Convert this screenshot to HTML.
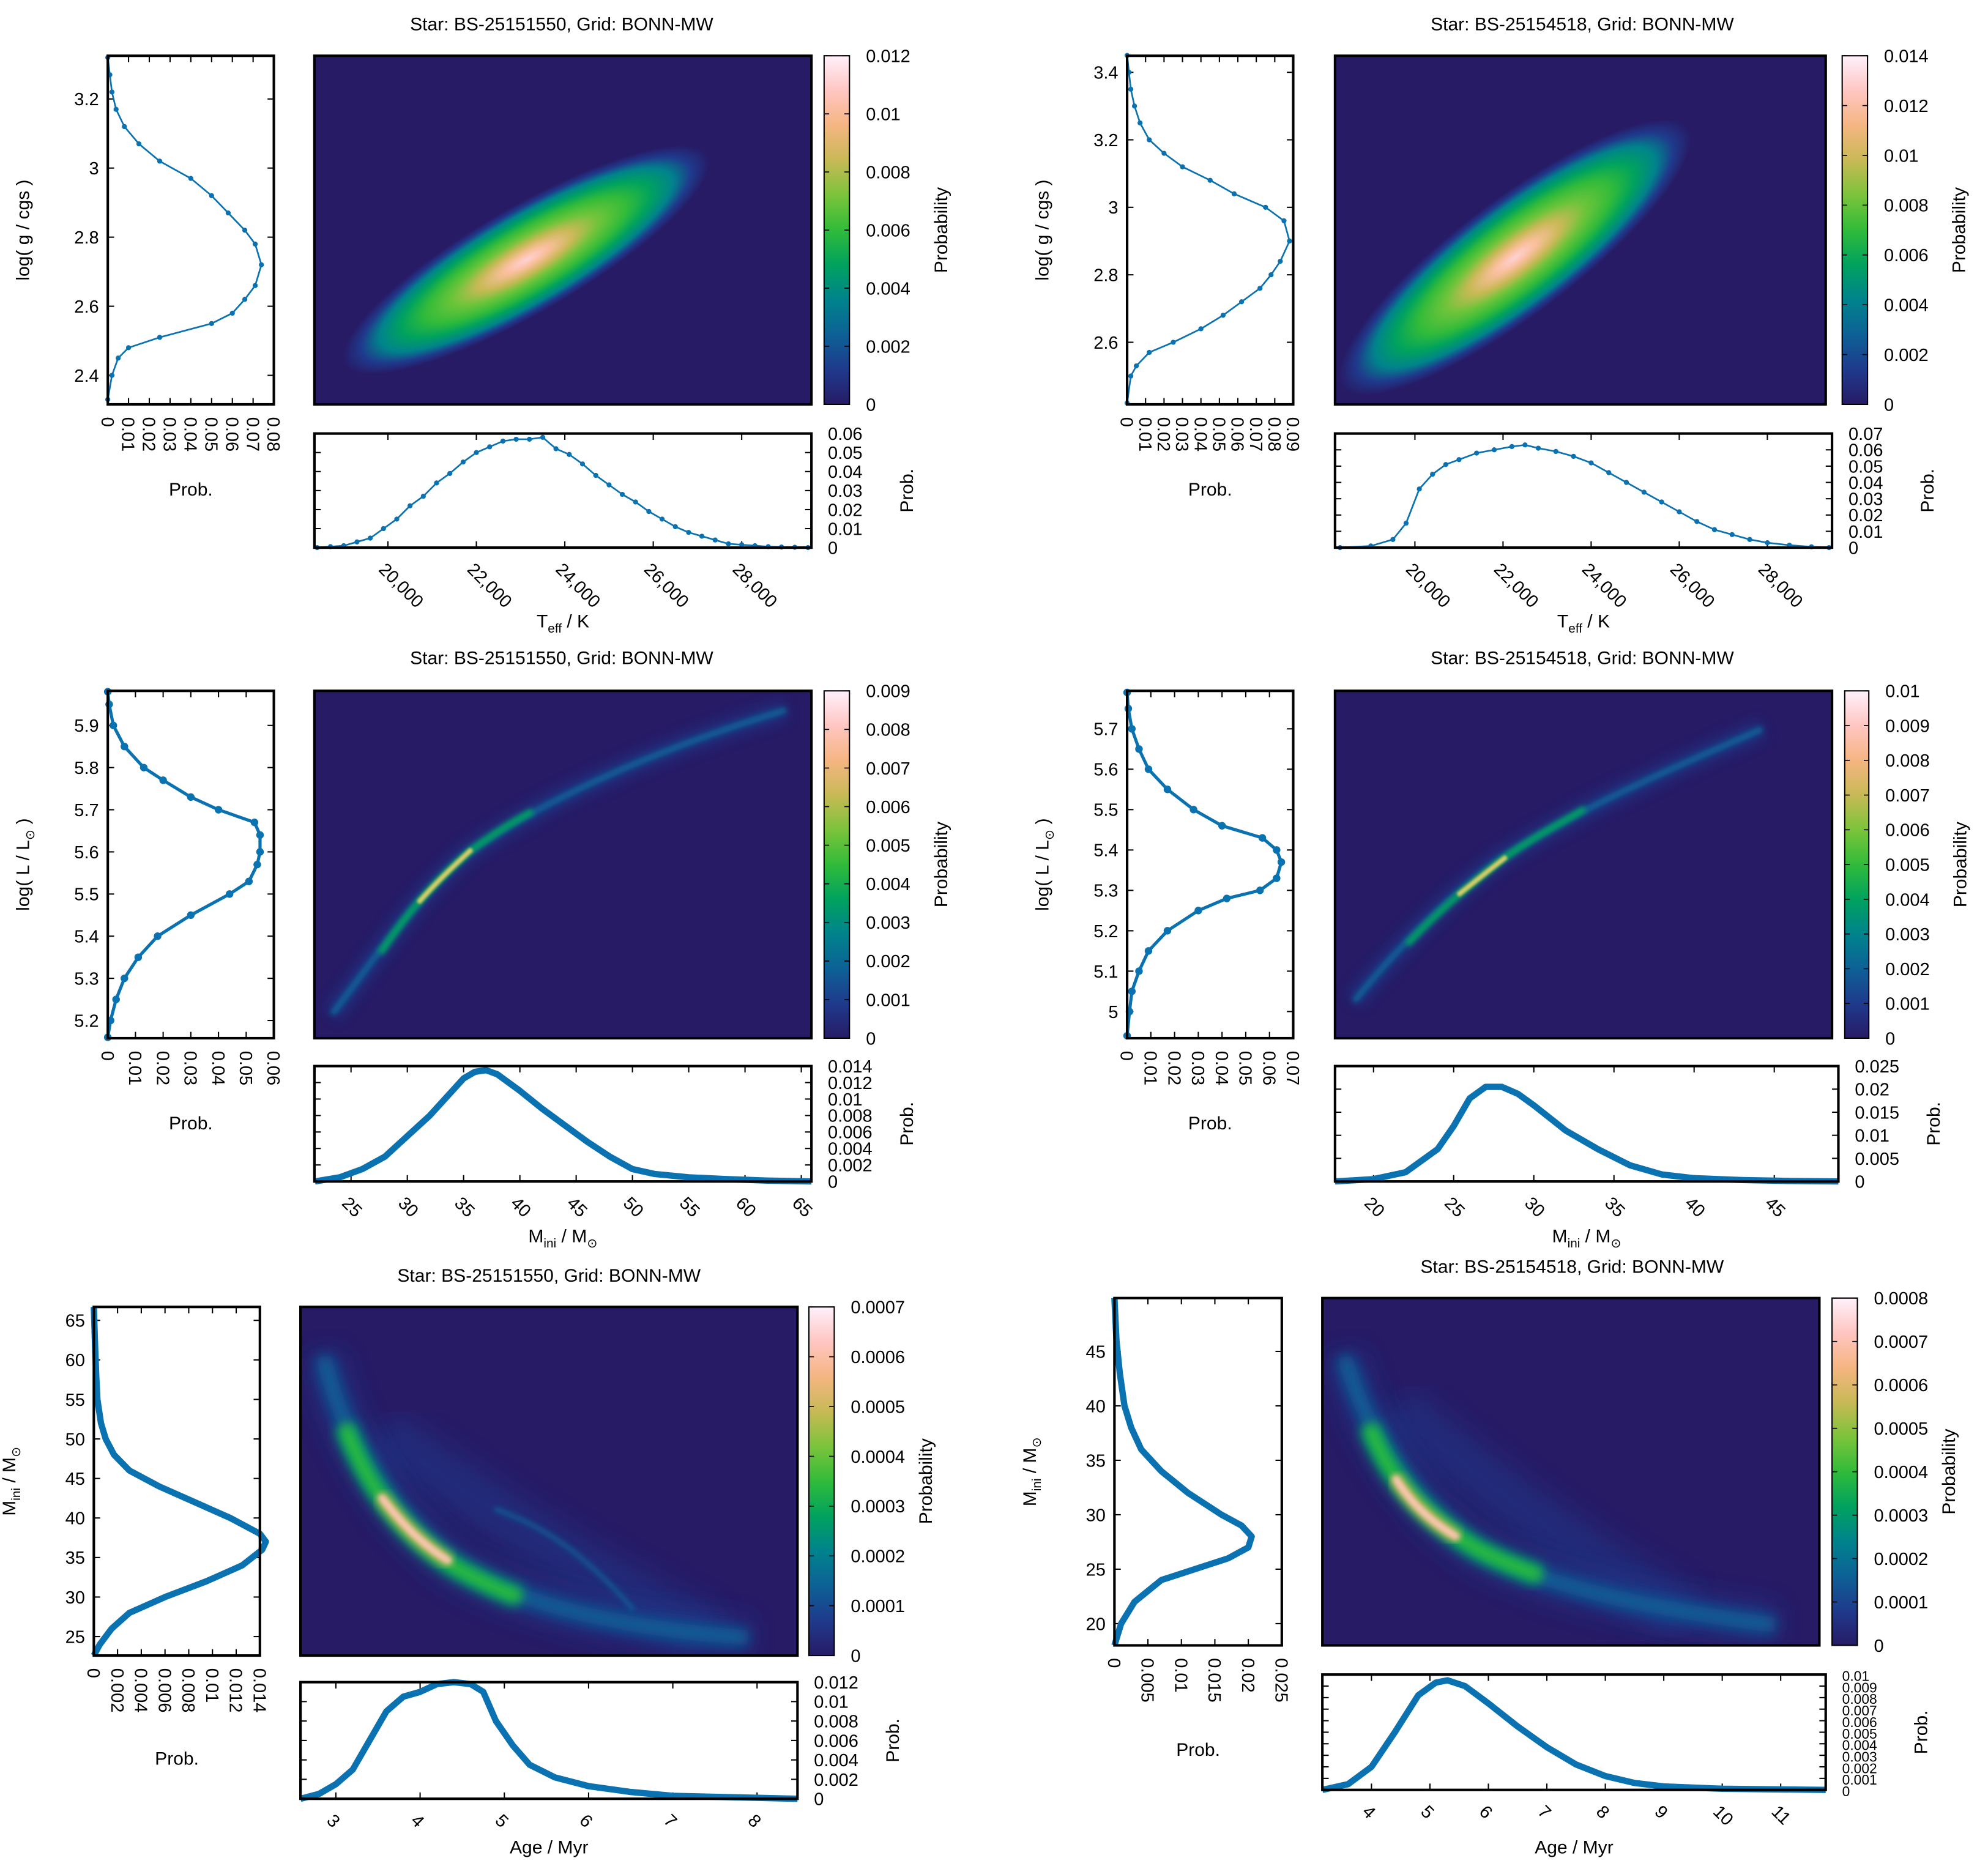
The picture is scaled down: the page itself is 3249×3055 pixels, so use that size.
<!DOCTYPE html>
<html><head><meta charset="utf-8"><style>
html,body{margin:0;padding:0;background:#fff}
svg{display:block}
text{font-family:"Liberation Sans",sans-serif;fill:#000}
</style></head><body>
<svg id="fig" xmlns="http://www.w3.org/2000/svg" width="3249" height="3055" viewBox="0 0 1568 1474.4">
<defs>
<linearGradient id="cmap" x1="0" y1="1" x2="0" y2="0">
<stop offset="0" stop-color="#271b66"/><stop offset="0.1" stop-color="#1f3a8c"/><stop offset="0.2" stop-color="#0d6196"/>
<stop offset="0.3" stop-color="#00838c"/><stop offset="0.4" stop-color="#00a25e"/><stop offset="0.5" stop-color="#31bb3a"/>
<stop offset="0.6" stop-color="#7bc43a"/><stop offset="0.7" stop-color="#c8b956"/><stop offset="0.8" stop-color="#f5b582"/>
<stop offset="0.9" stop-color="#ffc6c2"/><stop offset="1" stop-color="#fff0fb"/>
</linearGradient>
<radialGradient id="blob">
<stop offset="0" stop-color="#ffd0d4"/><stop offset="0.12" stop-color="#f9bf9a"/><stop offset="0.26" stop-color="#c8b956"/>
<stop offset="0.4" stop-color="#6cc43a"/><stop offset="0.55" stop-color="#31bb3a"/><stop offset="0.68" stop-color="#00a25e"/>
<stop offset="0.8" stop-color="#00838c"/><stop offset="0.9" stop-color="#1f3a8c"/><stop offset="1" stop-color="#271b66"/>
</radialGradient>
<filter id="bl1"><feGaussianBlur stdDeviation="1"/></filter>
<filter id="bl2"><feGaussianBlur stdDeviation="2"/></filter>
<filter id="bl4"><feGaussianBlur stdDeviation="4"/></filter>
<filter id="bl5"><feGaussianBlur stdDeviation="5"/></filter>
<filter id="bl10"><feGaussianBlur stdDeviation="10"/></filter>
</defs>
<g id="root"></g>
</svg>
<script>
// ---- Data arrays ----
const aLeftY=[2.33,2.4,2.45,2.48,2.51,2.55,2.58,2.62,2.66,2.72,2.78,2.82,2.87,2.92,2.97,3.02,3.07,3.12,3.17,3.22,3.27,3.32];
const aLeftP=[0,0.002,0.005,0.01,0.025,0.05,0.06,0.066,0.071,0.074,0.071,0.066,0.058,0.05,0.04,0.025,0.015,0.008,0.004,0.002,0.001,0];
const aBotX=[18400,18700,19000,19300,19600,19900,20200,20500,20800,21100,21400,21700,22000,22300,22600,22900,23200,23500,23800,24100,24400,24700,25000,25300,25600,25900,26200,26500,26800,27100,27400,27700,28000,28300,28600,28900,29200,29500];
const aBotP=[0,0.0005,0.001,0.003,0.005,0.010,0.015,0.022,0.027,0.034,0.039,0.045,0.050,0.053,0.056,0.057,0.057,0.058,0.052,0.049,0.044,0.038,0.033,0.028,0.024,0.019,0.015,0.011,0.008,0.006,0.004,0.002,0.0015,0.001,0.0005,0.0003,0.0002,0];
const bLeftY=[2.42,2.5,2.53,2.57,2.6,2.64,2.68,2.72,2.76,2.8,2.84,2.9,2.96,3.0,3.04,3.08,3.12,3.16,3.2,3.25,3.3,3.35,3.4,3.45];
const bLeftP=[0,0.002,0.005,0.012,0.025,0.040,0.052,0.062,0.072,0.078,0.083,0.088,0.085,0.075,0.058,0.045,0.030,0.020,0.012,0.007,0.004,0.002,0.001,0];
const bBotX=[18300,19000,19500,19800,20100,20400,20700,21000,21400,21800,22200,22500,22800,23200,23600,24000,24400,24800,25200,25600,26000,26400,26800,27200,27600,28000,28500,29000,29400];
const bBotP=[0,0.001,0.005,0.015,0.036,0.045,0.051,0.054,0.058,0.060,0.062,0.063,0.061,0.059,0.056,0.052,0.046,0.040,0.034,0.028,0.022,0.016,0.011,0.008,0.005,0.003,0.0015,0.0005,0];
const cLeftY=[5.16,5.2,5.25,5.3,5.35,5.4,5.45,5.5,5.53,5.57,5.6,5.64,5.67,5.7,5.73,5.77,5.8,5.85,5.9,5.95,5.98];
const cLeftP=[0,0.001,0.003,0.006,0.011,0.018,0.030,0.044,0.051,0.054,0.055,0.055,0.053,0.040,0.030,0.020,0.013,0.006,0.002,0.0005,0];
const cBotX=[21.8,24,26,28,30,32,34,35,36,37,38,40,42,44,46,48,50,52,55,58,62,65.9];
const cBotP=[0,0.0005,0.0015,0.003,0.0055,0.008,0.011,0.0125,0.0133,0.0135,0.013,0.011,0.0088,0.0068,0.0048,0.003,0.0015,0.0009,0.0005,0.0003,0.0001,0];
const dLeftY=[4.94,5.0,5.05,5.1,5.15,5.2,5.25,5.28,5.3,5.33,5.37,5.4,5.43,5.46,5.5,5.55,5.6,5.65,5.7,5.75,5.79];
const dLeftP=[0,0.001,0.002,0.005,0.009,0.017,0.030,0.042,0.056,0.063,0.065,0.063,0.057,0.040,0.028,0.017,0.009,0.005,0.002,0.0005,0];
const dBotX=[17.6,20,22,24,25,26,27,28,29,30,32,34,36,38,40,43,46,49];
const dBotP=[0,0.0005,0.002,0.007,0.012,0.018,0.0205,0.0205,0.019,0.0165,0.011,0.007,0.0035,0.0015,0.0007,0.0003,0.0001,0];
const eLeftY=[22.6,24,26,28,30,32,34,36,37,38,40,42,44,46,48,50,52,55,58,62,66.7];
const eLeftP=[0,0.0005,0.0015,0.003,0.006,0.0095,0.0125,0.0142,0.0145,0.014,0.0115,0.0085,0.0055,0.003,0.0017,0.001,0.0006,0.0003,0.0002,0.0001,0];
const eBotX=[2.58,2.8,3.0,3.2,3.4,3.6,3.8,4.0,4.2,4.4,4.6,4.75,4.9,5.1,5.3,5.6,6.0,6.5,7,7.5,8.48];
const eBotP=[0,0.0005,0.0015,0.003,0.006,0.009,0.0105,0.011,0.0118,0.012,0.0118,0.011,0.008,0.0055,0.0035,0.0022,0.0013,0.0007,0.0003,0.0002,0];
const fLeftY=[18,20,22,24,25,26,27,28,29,30,32,34,36,38,40,43,46,49.9];
const fLeftP=[0,0.001,0.003,0.007,0.012,0.017,0.020,0.0205,0.019,0.016,0.011,0.007,0.004,0.0025,0.0015,0.0008,0.0003,0];
const fBotX=[3.16,3.6,4.0,4.4,4.8,5.1,5.3,5.6,6.0,6.5,7.0,7.5,8.0,8.5,9,10,11.77];
const fBotP=[0,0.0005,0.002,0.005,0.0082,0.0093,0.0095,0.009,0.0075,0.0055,0.0037,0.0022,0.0012,0.0006,0.0003,0.0001,0];

const titles=["Star: BS-25151550, Grid: BONN-MW","Star: BS-25154518, Grid: BONN-MW"];
const teffTicks=[20000,22000,24000,26000,28000];

const NS="http://www.w3.org/2000/svg";
const root=document.getElementById('root');
function el(t,a,p){const e=document.createElementNS(NS,t);for(const k in a)e.setAttribute(k,a[k]);(p||root).appendChild(e);return e;}
function txt(s,a,p){const e=el('text',a,p);e.textContent=s;return e;}
function fmt(v,d){let s=v.toFixed(d);if(s.indexOf('.')>=0)s=s.replace(/0+$/,'').replace(/\.$/,'');return s;}
function comma(v){return String(v).replace(/\B(?=(\d{3})+(?!\d))/g,',');}
function range(a,b,s){const r=[];for(let v=a;v<=b+s*1e-6;v+=s)r.push(+v.toFixed(6));return r;}

const panels=[
 {id:'a',title:titles[0],tx:443,ty:24,hm:[248,44,640,319],cb:[650,670],cbTicks:range(0,0.012,0.002),cbMax:0.012,cbd:3,
  L:[85,216],Ly:[2.316,3.325],Lyt:[2.4,2.6,2.8,3,3.2],Lxmax:0.08,Lxt:range(0,0.08,0.01),Ld:2,
  B:[342,432],Bx:[18338,29577],Bxt:teffTicks,Bymax:0.06,Byt:range(0,0.06,0.01),Bd:2,comma:true,
  ly:aLeftY,lp:aLeftP,bx:aBotX,bp:aBotP,dense:0,ylab:'logg',xlab:'teff',xly:495,probY:391,
  blob:{type:'ell',cx:415,cy:205,rx:165,ry:42,rot:-30}},
 {id:'b',title:titles[1],tx:1248,ty:24,hm:[1053,44,1440,319],cb:[1453,1473],cbTicks:range(0,0.014,0.002),cbMax:0.014,cbd:3,
  L:[889,1020],Ly:[2.416,3.449],Lyt:[2.6,2.8,3,3.2,3.4],Lxmax:0.09,Lxt:range(0,0.09,0.01),Ld:2,
  B:[342,432],Bx:[18187,29468],Bxt:teffTicks,Bymax:0.07,Byt:range(0,0.07,0.01),Bd:2,comma:true,
  ly:bLeftY,lp:bLeftP,bx:bBotX,bp:bBotP,dense:0,ylab:'logg',xlab:'teff',xly:495,probY:391,
  blob:{type:'ell',cx:1195,cy:203,rx:170,ry:46,rot:-37}},
 {id:'c',title:titles[0],tx:443,ty:524,hm:[248,545,640,819],cb:[650,670],cbTicks:range(0,0.009,0.001),cbMax:0.009,cbd:3,
  L:[85,216],Ly:[5.158,5.982],Lyt:range(5.2,5.9,0.1),Lxmax:0.06,Lxt:range(0,0.06,0.01),Ld:2,
  B:[841,932],Bx:[21.75,65.9],Bxt:range(25,65,5),Bymax:0.014,Byt:range(0,0.014,0.002),Bd:3,
  ly:cLeftY,lp:cLeftP,bx:cBotX,bp:cBotP,dense:1,ylab:'logL',xlab:'mini',xly:980,probY:891,
  blob:{type:'ridge',d:'M262,800 C300,750 330,705 370,672 C430,630 520,590 620,560',mid:'M300,752 C320,722 340,698 370,672 C390,657 405,648 420,640',hot:'M330,712 C345,695 358,683 372,670'}},
 {id:'d',title:titles[1],tx:1248,ty:524,hm:[1053,545,1445,819],cb:[1455,1474],cbTicks:range(0,0.01,0.001),cbMax:0.01,cbd:3,
  L:[889,1020],Ly:[4.934,5.794],Lyt:range(5,5.7,0.1),Lxmax:0.07,Lxt:range(0,0.07,0.01),Ld:2,
  B:[841,932],Bx:[17.6,49.0],Bxt:range(20,45,5),Bymax:0.025,Byt:range(0,0.025,0.005),Bd:3,
  ly:dLeftY,lp:dLeftP,bx:dBotX,bp:dBotP,dense:1,ylab:'logL',xlab:'mini',xly:980,probY:891,
  blob:{type:'ridge',d:'M1068,790 C1100,750 1140,710 1180,680 C1240,640 1310,610 1390,575',mid:'M1110,745 C1135,718 1160,698 1185,678 C1210,660 1230,650 1250,638',hot:'M1150,706 C1165,694 1175,686 1188,676'}},
 {id:'e',title:titles[0],tx:433,ty:1011,hm:[237,1031,629,1306],cb:[638,658],cbTicks:range(0,0.0007,0.0001),cbMax:0.0007,cbd:4,
  L:[74,205],Ly:[22.6,66.7],Lyt:range(25,65,5),Lxmax:0.014,Lxt:range(0,0.014,0.002),Ld:3,
  B:[1327,1419],Bx:[2.58,8.48],Bxt:range(3,8,1),Bymax:0.012,Byt:range(0,0.012,0.002),Bd:3,
  ly:eLeftY,lp:eLeftP,bx:eBotX,bp:eBotP,dense:2,ylab:'mini',xlab:'age',xly:1462,probY:1392,
  blob:{type:'banana',d:'M255,1070 C272,1140 310,1200 360,1235 C420,1270 500,1285 590,1292',mid:'M272,1125 C290,1175 320,1212 360,1237 C380,1248 395,1255 410,1260',hot:'M300,1180 C315,1200 332,1218 355,1232',side:'M390,1190 C430,1205 460,1225 500,1270',fan:'M300,1130 C360,1170 420,1220 560,1290'}},
 {id:'f',title:titles[1],tx:1240,ty:1004,hm:[1043,1024,1435,1298],cb:[1445,1465],cbTicks:range(0,0.0008,0.0001),cbMax:0.0008,cbd:4,
  L:[879,1011],Ly:[18.0,49.9],Lyt:range(20,45,5),Lxmax:0.025,Lxt:range(0,0.025,0.005),Ld:3,
  B:[1321,1412],Bx:[3.16,11.77],Bxt:range(4,11,1),Bymax:0.01,Byt:range(0,0.01,0.001),Bd:3,
  ly:fLeftY,lp:fLeftP,bx:fBotX,bp:fBotP,dense:2,ylab:'mini',xlab:'age',xly:1462,probY:1385,
  blob:{type:'banana',d:'M1060,1070 C1082,1140 1120,1195 1170,1225 C1230,1255 1310,1270 1400,1282',mid:'M1080,1125 C1095,1165 1120,1195 1165,1222 C1185,1232 1200,1238 1215,1243',hot:'M1100,1165 C1112,1185 1128,1200 1150,1213',fan:'M1100,1110 C1160,1160 1220,1210 1330,1275'}}
];

function ylabText(kind,x,y,p){
  const t=el('text',{x:x,y:y,'font-size':14.5,'text-anchor':'middle',transform:`rotate(-90 ${x} ${y})`},p);
  
  
  if(kind==='logg'){t.textContent='log( g / cgs )';}
  else if(kind==='logL'){t.innerHTML='log( L / L<tspan font-size="10" dy="4">⊙</tspan><tspan dy="-4"> )</tspan>';}
  else {t.innerHTML='M<tspan font-size="10" dy="4">ini</tspan><tspan dy="-4"> / M</tspan><tspan font-size="10" dy="4">⊙</tspan>';}
}
function xlabText(kind,x,y,p){
  const t=el('text',{x:x,y:y,'font-size':14.5,'text-anchor':'middle'},p);
  
  
  if(kind==='teff')t.innerHTML='T<tspan font-size="10" dy="4">eff</tspan><tspan dy="-4"> / K</tspan>';
  else if(kind==='mini')t.innerHTML='M<tspan font-size="10" dy="4">ini</tspan><tspan dy="-4"> / M</tspan><tspan font-size="10" dy="4">⊙</tspan>';
  else t.textContent='Age / Myr';
}

panels.forEach(P=>{
  const g=el('g',{});
  
  
  const tt=txt(P.title,{x:P.tx,y:P.ty,'font-size':14.5,'text-anchor':'middle'},g);
  
  
  const [hx0,hy0,hx1,hy1]=P.hm;
  const hg=el('g',{},g);
  
  
  const cid='clip'+P.id;
  const cp=el('clipPath',{id:cid},g);el('rect',{x:hx0,y:hy0,width:hx1-hx0,height:hy1-hy0},cp);
  el('rect',{x:hx0,y:hy0,width:hx1-hx0,height:hy1-hy0,fill:'#271b66'},hg);
  const inner=el('g',{'clip-path':`url(#${cid})`},hg);
  const b=P.blob;
  if(b.type==='ell'){
    el('ellipse',{cx:b.cx,cy:b.cy,rx:b.rx,ry:b.ry,fill:'url(#blob)',transform:`rotate(${b.rot} ${b.cx} ${b.cy})`},inner);
  }else if(b.type==='ridge'){
    el('path',{d:b.d,fill:'none',stroke:'#1f3a8c','stroke-width':16,opacity:0.6,filter:'url(#bl5)'},inner);
    el('path',{d:b.d,fill:'none',stroke:'#0d6196','stroke-width':5,filter:'url(#bl2)'},inner);
    el('path',{d:b.mid,fill:'none',stroke:'#00a25e','stroke-width':5,filter:'url(#bl2)'},inner);
    el('path',{d:b.hot,fill:'none',stroke:'#a8c24a','stroke-width':4,filter:'url(#bl1)'},inner);
    el('path',{d:b.hot,fill:'none',stroke:'#f5d090','stroke-width':1.5,filter:'url(#bl1)'},inner);
  }else{
    el('path',{d:b.fan,fill:'none',stroke:'#1f3a8c','stroke-width':40,opacity:0.5,filter:'url(#bl10)'},inner);
    el('path',{d:b.d,fill:'none',stroke:'#1f3a8c','stroke-width':26,opacity:0.8,filter:'url(#bl10)'},inner);
    if(b.side)el('path',{d:b.side,fill:'none',stroke:'#0d6196','stroke-width':4,opacity:0.8,filter:'url(#bl2)'},inner);
    el('path',{d:b.d,fill:'none',stroke:'#0d6196','stroke-width':12,filter:'url(#bl5)'},inner);
    el('path',{d:b.mid,fill:'none',stroke:'#00a25e','stroke-width':16,filter:'url(#bl5)'},inner);
    el('path',{d:b.mid,fill:'none',stroke:'#31bb3a','stroke-width':8,filter:'url(#bl4)'},inner);
    el('path',{d:b.hot,fill:'none',stroke:'#c8b956','stroke-width':9,filter:'url(#bl4)'},inner);
    el('path',{d:b.hot,fill:'none',stroke:'#f5b582','stroke-width':5,filter:'url(#bl2)'},inner);
    el('path',{d:b.hot,fill:'none',stroke:'#ffd8e0','stroke-width':2.5,filter:'url(#bl2)'},inner);
  }
  el('rect',{x:hx0,y:hy0,width:hx1-hx0,height:hy1-hy0,fill:'none',stroke:'#000','stroke-width':2},hg);
  const [c0,c1]=P.cb;
  const cg=el('g',{},g);
  
  
  el('rect',{x:c0,y:hy0,width:c1-c0,height:hy1-hy0,fill:'url(#cmap)',stroke:'#000','stroke-width':1},cg);
  P.cbTicks.forEach(v=>{
    const y=hy1-(v/P.cbMax)*(hy1-hy0);
    el('line',{x1:c0,x2:c0+4,y1:y,y2:y,stroke:'#000','stroke-width':0.8},cg);
    el('line',{x1:c1-4,x2:c1,y1:y,y2:y,stroke:'#000','stroke-width':0.8},cg);
    const t=txt(fmt(v,P.cbd),{x:c1+13,y:y+5,'font-size':14},cg);
    
    
  });
  const pl=txt('Probability',{x:c1+77,y:(hy0+hy1)/2,'font-size':14.5,'text-anchor':'middle',transform:`rotate(-90 ${c1+77} ${(hy0+hy1)/2})`},cg);
  
  

  const [lx0,lx1]=P.L;
  const lg=el('g',{},g);
  
  
  const LX=v=>lx0+v/P.Lxmax*(lx1-lx0);
  const LY=v=>hy1-(v-P.Ly[0])/(P.Ly[1]-P.Ly[0])*(hy1-hy0);
  P.Lyt.forEach(v=>{const y=LY(v);
    el('line',{x1:lx0,x2:lx0+5,y1:y,y2:y,stroke:'#000'},lg);el('line',{x1:lx1-5,x2:lx1,y1:y,y2:y,stroke:'#000'},lg);
    const t=txt(fmt(v,2),{x:lx0-7,y:y+5,'font-size':14,'text-anchor':'end'},lg);
    
    });
  P.Lxt.forEach(v=>{const x=LX(v);
    el('line',{x1:x,x2:x,y1:hy1,y2:hy1-5,stroke:'#000'},lg);el('line',{x1:x,x2:x,y1:hy0,y2:hy0+5,stroke:'#000'},lg);
    const t=txt(fmt(v,P.Ld),{x:x-5,y:hy1+10,'font-size':14,transform:`rotate(90 ${x-5} ${hy1+10})`},lg);
    
    });
  const lpts=P.ly.map((v,i)=>[LX(P.lp[i]),LY(v)]);
  const lw=P.dense===2?5:(P.dense?2.5:1.3);
  const ll=el('polyline',{points:lpts.map(p=>p.join(',')).join(' '),fill:'none',stroke:'#0a72b0','stroke-width':lw,'stroke-linejoin':'round'},lg);
  
  
  if(P.dense<2)lpts.forEach(p=>{const c=el('circle',{cx:p[0],cy:p[1],r:P.dense?3:2,fill:'#0a72b0'},lg);
    
    });
  el('rect',{x:lx0,y:hy0,width:lx1-lx0,height:hy1-hy0,fill:'none',stroke:'#000','stroke-width':2},lg);
  ylabText(P.ylab,lx0-62,(hy0+hy1)/2,g);
  const pr=txt('Prob.',{x:(lx0+lx1)/2,y:P.probY,'font-size':14.5,'text-anchor':'middle'},g);
  
  

  const [by0,by1]=P.B;
  const bg=el('g',{},g);
  
  
  const BW=P.id==='b'||P.id==='d'||P.id==='f'?hx1+5:hx1;
  const BX=v=>hx0+(v-P.Bx[0])/(P.Bx[1]-P.Bx[0])*(BW-hx0);
  const BY=v=>by1-v/P.Bymax*(by1-by0);
  P.Byt.forEach(v=>{const y=BY(v);
    el('line',{x1:hx0,x2:hx0+5,y1:y,y2:y,stroke:'#000'},bg);el('line',{x1:BW-5,x2:BW,y1:y,y2:y,stroke:'#000'},bg);
    const t=txt(fmt(v,P.Bd),{x:BW+13,y:y+5,'font-size':P.id==='f'?11:14},bg);
    
    });
  P.Bxt.forEach(v=>{const x=BX(v);
    el('line',{x1:x,x2:x,y1:by1,y2:by1-5,stroke:'#000'},bg);el('line',{x1:x,x2:x,y1:by0,y2:by0+5,stroke:'#000'},bg);
    const s=P.comma?comma(v):String(v);
    const t=txt(s,{x:x-8,y:by1+18,'font-size':14,transform:`rotate(45 ${x-8} ${by1+18})`},bg);
    
    });
  const bpts=P.bx.map((v,i)=>[BX(v),BY(P.bp[i])]);
  const bl=el('polyline',{points:bpts.map(p=>p.join(',')).join(' '),fill:'none',stroke:'#0a72b0','stroke-width':P.dense?5:1.3,'stroke-linejoin':'round'},bg);
  
  
  if(!P.dense)bpts.forEach(p=>{const c=el('circle',{cx:p[0],cy:p[1],r:2,fill:'#0a72b0'},bg);
    
    });
  el('rect',{x:hx0,y:by0,width:BW-hx0,height:by1-by0,fill:'none',stroke:'#000','stroke-width':2},bg);
  const bp=txt('Prob.',{x:BW+80,y:(by0+by1)/2,'font-size':14.5,'text-anchor':'middle',transform:`rotate(-90 ${BW+80} ${(by0+by1)/2})`},bg);
  
  
  xlabText(P.xlab,(hx0+BW)/2,P.xly,g);
});
</script>
</body></html>
